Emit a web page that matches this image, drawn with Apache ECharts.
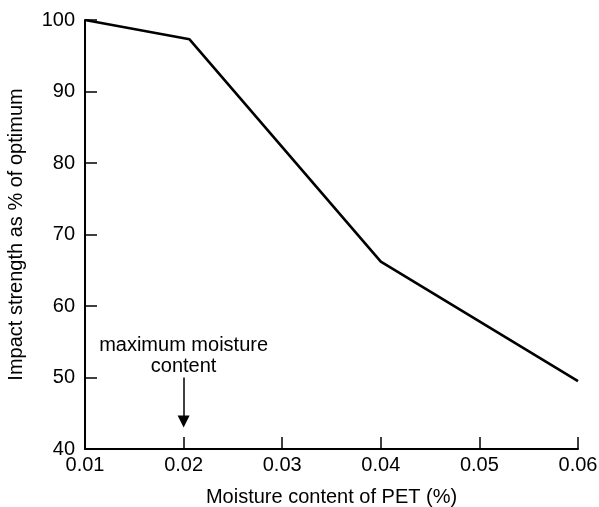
<!DOCTYPE html>
<html>
<head>
<meta charset="utf-8">
<script src="https://cdn.jsdelivr.net/npm/echarts@6/dist/echarts.min.js"></script>
<style>
html,body{margin:0;padding:0;background:#fff;}
#chart{width:599px;height:507px;}
</style>
</head>
<body>
<div id="chart"></div>
<script>
// Data
const moisture = [0.01, 0.0206, 0.04, 0.06];
const impactStrength = [100, 97.3, 66.2, 49.5];
const xTicks = [0.01, 0.02, 0.03, 0.04, 0.05, 0.06];
const yTicks = [40, 50, 60, 70, 80, 90, 100];
const annotationX = 0.02;
const arrowFrom = 50;
const arrowTo = 43.85;
const annotationTextY = 53.0;
const annotationText = 'maximum moisture\ncontent';

const font = '"Liberation Sans", Arial, Helvetica, sans-serif';
const chart = echarts.init(document.getElementById('chart'), null, {renderer: 'canvas'});

const pairs = moisture.map((x, i) => [x, impactStrength[i]]);

chart.setOption({
  animation: false,
  backgroundColor: '#fff',
  grid: {left: 85, right: 21, top: 20, bottom: 58, containLabel: false, outerBoundsMode: 'none'},
  xAxis: {
    type: 'value',
    min: xTicks[0],
    max: xTicks[xTicks.length - 1],
    interval: 0.01,
    name: 'Moisture content of PET (%)',
    nameLocation: 'middle',
    nameGap: 38,
    nameTextStyle: {color: '#000', fontSize: 20, fontFamily: font},
    axisLine: {show: true, onZero: false, lineStyle: {color: '#000', width: 2}},
    axisTick: {show: true, inside: true, length: 12, lineStyle: {color: '#000', width: 1.5}},
    axisLabel: {
      color: '#000', fontSize: 20, fontFamily: font, margin: 6,
      formatter: v => v.toFixed(2)
    },
    splitLine: {show: false}
  },
  yAxis: {
    type: 'value',
    min: yTicks[0],
    max: yTicks[yTicks.length - 1],
    interval: 10,
    name: 'Impact strength as % of optimum',
    nameLocation: 'middle',
    nameGap: 59,
    nameTextStyle: {color: '#000', fontSize: 20, fontFamily: font},
    axisLine: {show: true, onZero: false, lineStyle: {color: '#000', width: 2}},
    axisTick: {show: true, inside: true, length: 12, lineStyle: {color: '#000', width: 1.5}},
    axisLabel: {color: '#000', fontSize: 20, fontFamily: font, margin: 10},
    splitLine: {show: false}
  },
  series: [{
    type: 'line',
    data: pairs,
    symbol: 'none',
    lineStyle: {color: '#000', width: 2.6},
    itemStyle: {color: '#000'},
    markLine: {
      silent: true,
      symbol: ['none', 'triangle'],
      symbolSize: [12, 12],
      lineStyle: {color: '#000', width: 1.5, type: 'solid'},
      label: {show: false},
      data: [[{coord: [annotationX, arrowFrom]}, {coord: [annotationX, arrowTo]}]]
    },
    markPoint: {
      silent: true,
      symbol: 'circle',
      symbolSize: 0,
      label: {
        show: true,
        position: 'inside',
        formatter: annotationText,
        color: '#000',
        fontSize: 20,
        lineHeight: 21,
        fontFamily: font,
        align: 'center'
      },
      data: [{coord: [annotationX, annotationTextY]}]
    }
  }]
});
</script>
</body>
</html>
